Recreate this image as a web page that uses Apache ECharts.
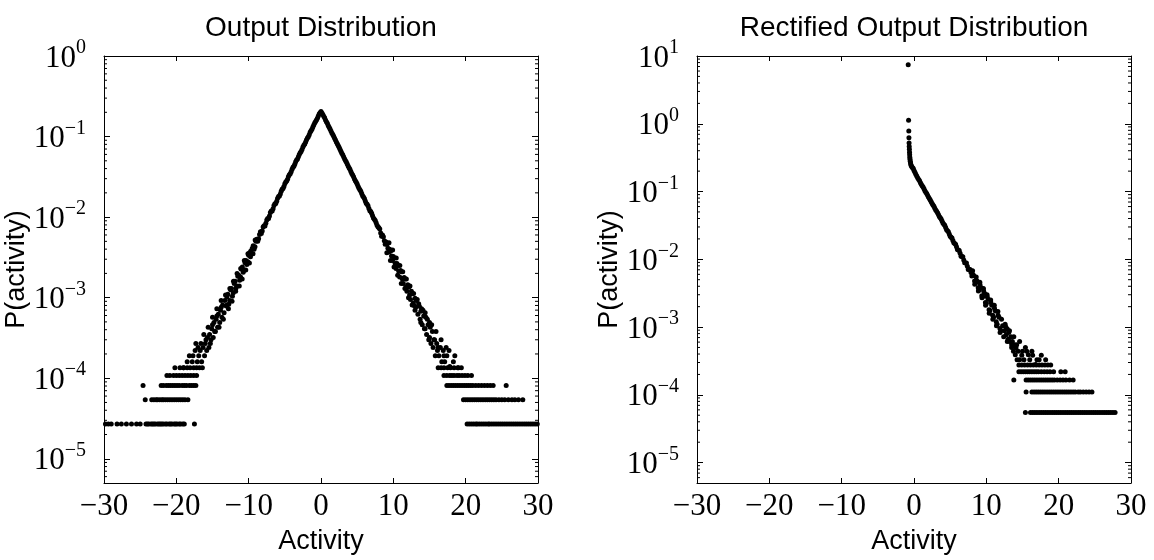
<!DOCTYPE html>
<html><head><meta charset="utf-8">
<script src="https://cdn.jsdelivr.net/npm/echarts@6/dist/echarts.min.js"></script>
<style>html,body{margin:0;padding:0;background:#fff}#c{width:1154px;height:560px}</style>
</head><body><div id="c"></div>
<script>
const titles = ['Output Distribution', 'Rectified Output Distribution'];
const xName = 'Activity';
const yName = 'P(activity)';
const xMin = -30, xMax = 30, xStep = 10;
const yMin = 5e-6;
const yMaxLeft = 1, yMaxRight = 10;

// ---- Left panel: output distribution ----
const leftCore = [
[-13,0.00102],[-12.75,0.00083],[-12.5,0.00125],[-12.25,0.00104],[-12,0.00150],[-11.75,0.00132],[-11.5,0.00184],[-11.25,0.00165],[-11,0.00225],[-10.75,0.00206],[-10.5,0.00272],[-10.25,0.00258],[-10,0.00335],[-9.75,0.00322],[-9.5,0.00410],[-9.25,0.00400],[-9,0.00500],[-8.75,0.00500],[-8.5,0.00610],[-8.25,0.00625],[-8,0.00755],[-7.75,0.00775],[-7.5,0.00920],[-7.25,0.00960],[-7,0.0114],[-6.75,0.0119],[-6.5,0.0139],[-6.25,0.0148],[-6,0.0171],[-5.75,0.0183],[-5.5,0.0210],[-5.25,0.0226],[-5,0.0260],[-4.75,0.0280],[-4.5,0.0319],[-4.25,0.0346],[-4,0.0394],[-3.75,0.0428],[-3.5,0.0487],[-3.25,0.0528],[-3,0.0600],[-2.75,0.0652],[-2.5,0.0740],[-2.25,0.0808],[-2,0.0910],[-1.75,0.0995],[-1.5,0.113],[-1.25,0.123],[-1,0.139],[-0.75,0.154],[-0.5,0.169],[-0.25,0.190],[0,0.205],
[0.25,0.188],[0.5,0.171],[0.75,0.153],[1,0.137],[1.25,0.124],[1.5,0.111],[1.75,0.101],[2,0.0905],[2.25,0.0812],[2.5,0.0735],[2.75,0.0655],[3,0.0596],[3.25,0.0531],[3.5,0.0483],[3.75,0.0430],[4,0.0392],[4.25,0.0348],[4.5,0.0317],[4.75,0.0282],[5,0.0257],[5.25,0.0228],[5.5,0.0209],[5.75,0.0184],[6,0.0170],[6.25,0.0149],[6.5,0.0138],[6.75,0.0120],[7,0.0112],[7.25,0.00975],[7.5,0.00905],[7.75,0.00790],[8,0.00740],[8.25,0.00635],[8.5,0.00600],[8.75,0.00510],[9,0.00490],[9.25,0.00410],[9.5,0.00400],[9.75,0.00330],[10,0.00325],[10.25,0.00265],[10.5,0.00265],[10.75,0.00212],[11,0.00218],[11.25,0.00170],[11.5,0.00178],[11.75,0.00136],[12,0.00145],[12.25,0.00108],[12.5,0.00120],[12.75,0.00086],[13,0.00098]
];
const leftMid = [
[0.125,0.196],[0.375,0.179],[0.625,0.161],[0.875,0.146],[1.125,0.130],[1.375,0.117],[1.625,0.106],[1.875,0.0955],[2.125,0.0858],[2.375,0.0772],[2.625,0.0695],[2.875,0.0622],[3.125,0.0563],[3.375,0.0506],[3.625,0.0455],[3.875,0.0411],[4.125,0.0368],[4.375,0.0333],[4.625,0.0298],[4.875,0.0270],[5.125,0.0241],[5.375,0.0219],[5.625,0.0196],[5.875,0.0178],[6.125,0.0158],[6.375,0.0144],[6.625,0.0128],[6.875,0.0117],[7.125,0.0104],[7.375,0.0094],[7.625,0.0085],[7.875,0.0076],[8.125,0.0071],[8.375,0.0058],[8.625,0.0057],[8.875,0.0046],[9.125,0.0046],[9.375,0.0037],[9.625,0.0038],[9.875,0.0029],[10.125,0.0031],[10.375,0.0023],[10.625,0.0025],[10.875,0.0018],[11.125,0.0021],[11.375,0.0015],[11.625,0.0017],[11.875,0.0012],[12.125,0.00135],[12.375,0.00095],[12.625,0.00112],[12.875,0.00080],
[-0.125,0.197],[-0.375,0.180],[-0.625,0.160],[-0.875,0.147],[-1.125,0.131],[-1.375,0.118],[-1.625,0.105],[-1.875,0.0960],[-2.125,0.0855],[-2.375,0.0778],[-2.625,0.0690],[-2.875,0.0628],[-3.125,0.0560],[-3.375,0.0510],[-3.625,0.0452],[-3.875,0.0415],[-4.125,0.0365],[-4.375,0.0336],[-4.625,0.0295],[-4.875,0.0273],[-5.125,0.0239],[-5.375,0.0221],[-5.625,0.0194],[-5.875,0.0180],[-6.125,0.0157],[-6.375,0.0146],[-6.625,0.0127],[-6.875,0.0119],[-7.125,0.0103],[-7.375,0.0096],[-7.625,0.0084],[-7.875,0.0078],[-8.125,0.0067],[-8.375,0.0066],[-8.625,0.0054],[-8.875,0.0053],[-9.125,0.0043],[-9.375,0.0044],[-9.625,0.0035],[-9.875,0.0036],[-10.125,0.0028],[-10.375,0.0029],[-10.625,0.0022],[-10.875,0.0024],[-11.125,0.0018],[-11.375,0.0019],[-11.625,0.0014],[-11.875,0.0016],[-12.125,0.00115],[-12.375,0.00130],[-12.625,0.00092],[-12.875,0.00110]
];
const leftScatter = [
[-9.1,0.0052],[-9.4,0.0035],[-9.7,0.0038],[-9.9,0.0027],[-10.1,0.0035],[-10.4,0.0022],[-10.6,0.0029],[-10.9,0.0017],[-11.1,0.0023],[-11.3,0.0014],[-11.6,0.0020],[-11.8,0.0012],[-12.1,0.0016],[-12.3,0.00090],[-12.6,0.0013],[-12.8,0.00073],[-13.0,0.00081],[-13.2,0.00108],[-13.5,0.00054],[-13.8,0.00092],[-14.1,0.00043],[-14.4,0.00073],[-14.7,0.00038],[-15.0,0.00057],[-15.3,0.00027],[-15.6,0.00043],[-15.9,0.00030],[-16.2,0.00035],[-16.6,0.00027],[-17.0,0.00024],[-17.3,0.00027],[-17.7,0.00019],[-18.5,0.00016],[-19.0,0.000135],
[9.1,0.0036],[9.4,0.0048],[9.6,0.0029],[9.9,0.0039],[10.1,0.0024],[10.4,0.0031],[10.6,0.0019],[10.9,0.0025],[11.1,0.0015],[11.3,0.0021],[11.6,0.0013],[11.8,0.0017],[12.1,0.00100],[12.3,0.00140],[12.6,0.00081],[12.8,0.00113],[13.0,0.00070],[13.2,0.00092],[13.5,0.00084],[13.8,0.00049],[14.1,0.00070],[14.4,0.00041],[14.7,0.00054],[15.0,0.00032],[15.3,0.00046],[15.6,0.00030],[15.9,0.00038],[16.2,0.00024],[16.6,0.00030],[17.0,0.00019],[17.3,0.00024],[17.7,0.00022],[18.5,0.00019],[19.0,0.000135]
];
const leftCloud = [
[-13.1,0.00079],[-13.3,0.00092],[-13.4,0.00065],[-13.6,0.00081],[-13.7,0.00057],[-13.9,0.00070],[-14.0,0.00049],[-14.2,0.00062],[-14.3,0.00043],[-14.5,0.00054],[-14.6,0.00038],[-14.8,0.00049],[-14.9,0.00032],[-15.1,0.00041],[-15.2,0.00030],[-15.4,0.00035],[-15.5,0.00024],[-15.7,0.00032],[-15.8,0.00022],[-16.0,0.00027],[-16.1,0.00019],[-16.3,0.00024],[-16.5,0.00016],[-16.7,0.00022],[-16.9,0.00019],[-17.1,0.00016],[-17.4,0.00022],[-17.8,0.00016],[-18.2,0.00019],[-15.0,0.00046],[-14.4,0.00059],[-13.8,0.00076],
[13.1,0.00076],[13.3,0.00095],[13.4,0.00062],[13.6,0.00078],[13.7,0.00054],[13.9,0.00073],[14.0,0.00046],[14.2,0.00059],[14.3,0.00041],[14.5,0.00057],[14.6,0.00035],[14.8,0.00046],[14.9,0.00030],[15.1,0.00043],[15.2,0.00027],[15.4,0.00038],[15.5,0.00024],[15.7,0.00030],[15.8,0.00019],[16.0,0.00027],[16.1,0.00022],[16.3,0.00019],[16.5,0.00024],[16.7,0.00016],[16.9,0.00022],[17.1,0.00016],[17.4,0.00019],[17.8,0.00014],[18.3,0.00016],[15.0,0.00049],[14.4,0.00065],[13.8,0.00068]
];
const leftLevels = [2.7e-5, 5.4e-5, 8.1e-5, 1.08e-4, 1.35e-4];
const leftRow1X = [-29.8,-29.4,-29.0,-28.2,-27.6,-26.9,-26.2,-25.5,-25.0,-24.2,-24.0,-23.8,-23.5,-23.3,-23.1,-22.9,-22.6,-22.4,-22.2,-22.0,-21.8,-21.5,-21.3,-21.0,-20.8,-20.6,-20.3,-20.1,-19.9,-19.6,-19.4,-19.1,-18.9,-17.5,
  20.2,20.5,20.8,21.1,21.4,21.6,21.9,22.2,22.5,22.8,23.1,23.3,23.6,23.9,24.2,24.5,24.8,25.1,25.4,25.7,26.0,26.3,26.6,26.9,27.2,27.5,27.8,28.1,28.4,28.7,29.0,29.3,29.6,29.9];
const leftRow2X = [-24.3,-23.4,-23.1,-22.8,-22.6,-22.3,-22.0,-21.8,-21.5,-21.2,-20.9,-20.6,-20.3,-20.0,-19.7,-19.4,-19.1,-18.8,-18.4,
  19.7,20.0,20.3,20.6,20.9,21.2,21.5,21.8,22.1,22.4,22.7,23.0,23.3,23.6,23.9,24.2,24.6,25.0,25.4,25.9,26.4,26.8,27.3,27.9];
const leftRow3X = [-24.6,-22.1,-21.8,-21.4,-21.1,-20.8,-20.5,-20.2,-19.9,-19.6,-19.2,-18.9,-18.6,-18.2,-17.9,-17.6,-17.3,
  17.4,17.7,18.0,18.3,18.6,18.9,19.2,19.5,19.8,20.1,20.4,20.7,21.0,21.4,21.8,22.2,22.6,23.0,23.4,23.8,25.6];
const leftRow4X = [-21.3,-20.9,-20.4,-20.0,-19.6,-19.2,-18.8,-18.4,-18.0,-17.6,-17.2,
  17.0,17.4,17.8,18.1,18.4,18.8,19.1,19.5,19.9,20.3,20.8];
const leftRow5X = [-20.2,-19.5,-19.0,-18.5,-18.1,-17.6,-17.2,-16.8,-16.4,
  16.2,16.6,17.0,17.5,17.9,18.4,18.9,19.4];

// ---- Right panel: rectified output distribution ----
const rightSpike = [
[-0.8,7.4],[-0.75,1.13],[-0.72,0.78],[-0.7,0.62],[-0.68,0.52],[-0.66,0.46],[-0.64,0.42],[-0.62,0.38],[-0.6,0.35],[-0.58,0.32],[-0.55,0.30],[-0.52,0.28],[-0.48,0.265],[-0.44,0.25],[-0.38,0.24],[-0.3,0.232],[-0.2,0.225],[-0.1,0.218]
];
const rightCore = [
[0,0.205],[0.25,0.180],[0.5,0.160],[0.75,0.145],[1,0.128],[1.25,0.117],[1.5,0.103],[1.75,0.0935],[2,0.0828],[2.25,0.0752],[2.5,0.0665],[2.75,0.0605],[3,0.0533],[3.25,0.0488],[3.5,0.0428],[3.75,0.0393],[4,0.0343],[4.25,0.0317],[4.5,0.0274],[4.75,0.0255],[5,0.0219],[5.25,0.0206],[5.5,0.0175],[5.75,0.0167],[6,0.0140],[6.25,0.0135],[6.5,0.0111],[6.75,0.0109],[7,0.00890],[7.25,0.00880],[7.5,0.00710],[7.75,0.00710],[8,0.00565],[8.25,0.00575],[8.5,0.00450],[8.75,0.00470],[9,0.00355],[9.25,0.00385],[9.5,0.00280],[9.75,0.00315],[10,0.00222],[10.25,0.00258],[10.5,0.00175],[10.75,0.00210],[11,0.00140],[11.25,0.00172],[11.5,0.00110],[11.75,0.00140],[12,0.00088]
];
const rightMid = [
[0.125,0.192],[0.375,0.170],[0.625,0.152],[0.875,0.136],[1.125,0.122],[1.375,0.110],[1.625,0.098],[1.875,0.088],[2.125,0.079],[2.375,0.0707],[2.625,0.0634],[2.875,0.0568],[3.125,0.0510],[3.375,0.0457],[3.625,0.0410],[3.875,0.0367],[4.125,0.0330],[4.375,0.0295],[4.625,0.0264],[4.875,0.0236],[5.125,0.0212],[5.375,0.0190],[5.625,0.0171],[5.875,0.0153],[6.125,0.0137],[6.375,0.0123],[6.625,0.0110],[6.875,0.0098],[7.125,0.0088],[7.375,0.0079],[7.625,0.0071],[7.875,0.0064],[8.125,0.0060],[8.375,0.0048],[8.625,0.0049],[8.875,0.0038],[9.125,0.0042],[9.375,0.0029],[9.625,0.0034],[9.875,0.0023],[10.125,0.0028],[10.375,0.0018],[10.625,0.0023],[10.875,0.0015],[11.125,0.0019],[11.375,0.0012],[11.625,0.0015],[11.875,0.00095]
];
const rightScatter = [
[8.1,0.0068],[8.4,0.0043],[8.6,0.0055],[8.9,0.0034],[9.1,0.0046],[9.4,0.0027],[9.6,0.0037],[9.9,0.0021],[10.1,0.0030],[10.4,0.0016],[10.6,0.0025],[10.9,0.0013],[11.1,0.0021],[11.4,0.00105],[11.6,0.0017],[11.9,0.00083],[12.1,0.0013],[12.4,0.00072],[12.7,0.0010],[12.9,0.00061],[13.2,0.00088],[13.5,0.00055],[13.8,0.00072],[14.2,0.00055],[14.6,0.00061],[15.0,0.00044],[15.4,0.00050],[15.8,0.00039],[16.3,0.00044],[16.8,0.00028],[17.3,0.00033]
];
const rightCloud = [
[12.25,0.00105],[12.5,0.00088],[12.6,0.00110],[12.75,0.00077],[12.9,0.00094],[13.0,0.00066],[13.1,0.00083],[13.25,0.00061],[13.4,0.00072],[13.5,0.00050],[13.6,0.00061],[13.75,0.00044],[13.9,0.00055],[14.0,0.00039],[14.1,0.000495],[14.25,0.00033],[14.4,0.00044],[14.6,0.00033],[14.9,0.000385],[15.2,0.00033],[15.6,0.00044],[16.0,0.00033],[16.4,0.000385],[17.0,0.00033],[17.6,0.000385],[18.2,0.00033]
];
const rightLevels = [5.5e-5, 1.1e-4, 1.65e-4, 2.2e-4, 2.75e-4];
const rightRow1X = [15.4,16.1,16.4,16.7,17.0,17.3,17.6,17.9,18.2,18.5,18.8,19.1,19.4,19.7,20.0,20.3,20.6,20.9,21.2,21.5,21.8,22.1,22.4,22.7,23.0,23.3,23.6,23.9,24.2,24.5,24.8,25.1,25.4,25.7,26.0,26.3,26.6,26.9,27.2,27.5,27.8];
const rightRow2X = [15.5,16.3,16.6,16.9,17.2,17.5,17.8,18.1,18.4,18.7,19.0,19.3,19.6,19.9,20.2,20.5,20.8,21.1,21.4,21.7,22.0,22.3,22.7,23.0,23.4,23.8,24.2,24.6];
const rightRow3X = [13.8,15.5,15.8,16.1,16.4,16.7,17.0,17.3,17.6,17.9,18.2,18.5,18.8,19.1,19.4,19.8,20.2,20.6,21.0,21.5,22.0];
const rightRow4X = [14.5,14.8,15.1,15.4,15.7,16.0,16.3,16.6,16.9,17.2,17.6,18.0,18.4,18.8,19.3,20.3,20.9];
const rightRow5X = [14.5,14.9,15.3,15.7,16.1,16.5,16.9,17.3,17.7,18.1,18.5,18.9];

// ---- build ----
function rows(levels, xs){ const out=[]; xs.forEach((arr,i)=>arr.forEach(x=>out.push([x, levels[i]]))); return out; }
const leftData = leftCore.concat(leftMid, leftScatter, leftCloud, rows(leftLevels,[leftRow1X,leftRow2X,leftRow3X,leftRow4X,leftRow5X]));
const rightData = rightSpike.concat(rightCore, rightMid, rightScatter, rightCloud, rows(rightLevels,[rightRow1X,rightRow2X,rightRow3X,rightRow4X,rightRow5X]));

function minorTicks(max){ const out=[]; for(let e=-6;e<=1;e++){ for(let m=2;m<=9;m++){ const v=m*Math.pow(10,e); if(v>=yMin && v<max) out.push([0,v]); } } return out; }

const serif = 'Liberation Serif, Times New Roman, serif';
const sans = 'Liberation Sans, Arial, Helvetica, sans-serif';
function xLab(v){ return v<0 ? '\u2212'+(-v) : String(v); }
function yLab(v){ const e=Math.round(Math.log10(v)); return '{b|10}{s|'+(e<0?'\u2212'+(-e):e)+'}'; }
const rich = {
  b:{fontFamily:serif,fontSize:31,lineHeight:36,verticalAlign:'bottom',color:'#000'},
  s:{fontFamily:serif,fontSize:20,lineHeight:16,verticalAlign:'top',color:'#000'}
};
const lineBlack = {color:'#000',width:1};

const grids = [
  {left:104, top:56, width:434, height:432},
  {left:697, top:56, width:434, height:432}
];
const xAxis=[], yAxis=[], series=[];
[yMaxLeft, yMaxRight].forEach((ymax, g)=>{
  xAxis.push({gridIndex:g,type:'value',min:xMin,max:xMax,interval:xStep,position:'bottom',
    axisLine:{show:true,onZero:false,lineStyle:lineBlack},
    axisTick:{show:true,inside:true,length:5,lineStyle:lineBlack},
    axisLabel:{formatter:xLab,fontFamily:serif,fontSize:31,color:'#000',margin:8},
    splitLine:{show:false},
    name:xName,nameLocation:'middle',nameGap:45,
    nameTextStyle:{fontFamily:sans,fontSize:27,color:'#000'}});
  xAxis.push({gridIndex:g,type:'value',min:xMin,max:xMax,interval:xStep,position:'top',
    axisLine:{show:true,onZero:false,lineStyle:lineBlack},
    axisTick:{show:true,inside:true,length:5,lineStyle:lineBlack},
    axisLabel:{show:false},splitLine:{show:false}});
  yAxis.push({gridIndex:g,type:'log',logBase:10,min:yMin,max:ymax,position:'left',
    axisLine:{show:true,onZero:false,lineStyle:lineBlack},
    axisTick:{show:true,inside:true,length:6,lineStyle:lineBlack},
    axisLabel:{formatter:yLab,rich:rich,margin:18,showMinLabel:false},
    splitLine:{show:false},
    name:yName,nameLocation:'middle',nameGap:60,
    nameTextStyle:{fontFamily:sans,fontSize:27,color:'#000'}});
  yAxis.push({gridIndex:g,type:'log',logBase:10,min:yMin,max:ymax,position:'right',
    axisLine:{show:true,onZero:false,lineStyle:lineBlack},
    axisTick:{show:true,inside:true,length:6,lineStyle:lineBlack},
    axisLabel:{show:false},splitLine:{show:false}});
  series.push({type:'scatter',xAxisIndex:2*g,yAxisIndex:2*g,data:g===0?leftData:rightData,
    symbol:'circle',symbolSize:5,itemStyle:{color:'#000',opacity:1},silent:true});
  series.push({type:'custom',xAxisIndex:2*g,yAxisIndex:2*g,data:minorTicks(ymax),encode:{x:0,y:1},silent:true,clip:false,
    renderItem:function(params, api){
      const cs=params.coordSys; const y=api.coord([0, api.value(1)])[1];
      return {type:'group',children:[
        {type:'line',shape:{x1:cs.x,y1:y,x2:cs.x+3,y2:y},style:{stroke:'#000',lineWidth:1}},
        {type:'line',shape:{x1:cs.x+cs.width-3,y1:y,x2:cs.x+cs.width,y2:y},style:{stroke:'#000',lineWidth:1}}
      ]};
    }});
});

const chart = echarts.init(document.getElementById('c'), null, {renderer:'canvas'});
chart.setOption({
  animation:false,
  backgroundColor:'#fff',
  title: titles.map((t,i)=>({text:t,left:grids[i].left+grids[i].width/2,top:14,textAlign:'center',padding:0,
    textStyle:{fontFamily:sans,fontSize:28,fontWeight:'normal',color:'#000'}})),
  grid: grids,
  xAxis: xAxis,
  yAxis: yAxis,
  series: series
});
</script>
</body></html>
